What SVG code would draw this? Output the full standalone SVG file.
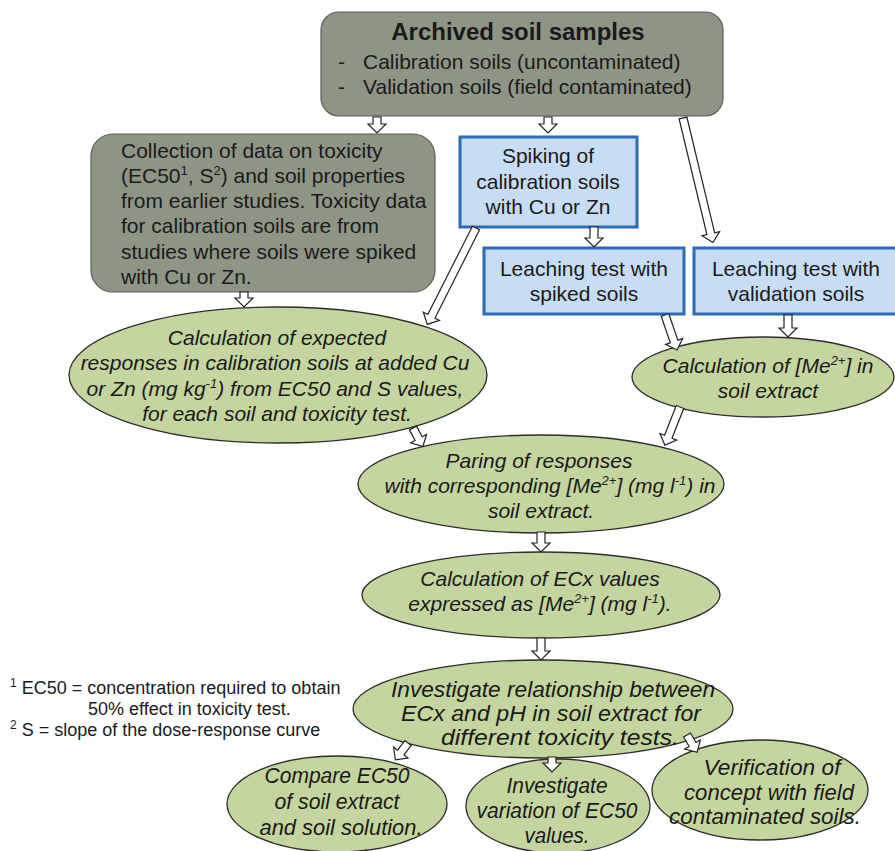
<svg xmlns="http://www.w3.org/2000/svg" width="895" height="851" viewBox="0 0 895 851">
<style>
text{font-family:"Liberation Sans",Arial,sans-serif;fill:#1a1a1a}
.b{font-size:21px}
.c{text-anchor:middle}
.i{font-style:italic}
.t{font-size:24px;font-weight:bold}
.n{font-family:"Liberation Sans Narrow","Liberation Sans",Arial,sans-serif;font-size:22px;font-style:italic}
.f{font-size:18px}
.gray{fill:#8f9585;stroke:#5a5e55;stroke-width:1.2}
.blue{fill:#c7ddf4;stroke:#2c6bb6;stroke-width:3}
.ell{fill:#c4d59f;stroke:#2d2d2d;stroke-width:1.3}
.arr{fill:#fff;stroke:#222;stroke-width:1.2;stroke-linejoin:miter}
</style>
<rect width="895" height="851" fill="#fff"/>

<g id="archived">
<rect class="gray" x="321" y="12" width="402" height="104" rx="18"/>
<text class="t c" x="518" y="40">Archived soil samples</text>
<text class="b" x="338" y="69">-</text>
<text class="b" x="363" y="69">Calibration soils (uncontaminated)</text>
<text class="b" x="338" y="94">-</text>
<text class="b" x="363" y="94">Validation soils (field contaminated)</text>
</g>

<g id="collection">
<rect class="gray" x="91" y="134" width="344" height="158" rx="22"/>
<text class="b" x="121" y="158">Collection of data on toxicity</text>
<text class="b" x="121" y="183">(EC50<tspan dy="-8" font-size="13">1</tspan><tspan dy="8">, S</tspan><tspan dy="-8" font-size="13">2</tspan><tspan dy="8">) and soil properties</tspan></text>
<text class="b" x="121" y="208">from earlier studies. Toxicity data</text>
<text class="b" x="121" y="233">for calibration soils are from</text>
<text class="b" x="121" y="259">studies where soils were spiked</text>
<text class="b" x="121" y="284">with Cu or Zn.</text>
</g>

<g id="spiking">
<rect class="blue" x="460" y="137" width="177" height="90"/>
<text class="b c" x="548" y="163">Spiking of</text>
<text class="b c" x="548" y="189">calibration soils</text>
<text class="b c" x="548" y="214">with Cu or Zn</text>
</g>

<g id="leach-spiked">
<rect class="blue" x="484" y="248" width="200" height="66"/>
<text class="b c" x="584" y="276">Leaching test with</text>
<text class="b c" x="584" y="301">spiked soils</text>
</g>

<g id="leach-valid">
<rect class="blue" x="694" y="248" width="203" height="66"/>
<text class="b c" x="796" y="276">Leaching test with</text>
<text class="b c" x="796" y="301">validation soils</text>
</g>

<g id="expected">
<ellipse class="ell" cx="278" cy="375" rx="209" ry="68"/>
<text class="b c i" x="277" y="345">Calculation of expected</text>
<text class="b c i" x="275" y="370">responses in calibration soils at added Cu</text>
<text class="b c i" x="275" y="396">or Zn (mg kg<tspan dy="-8" font-size="13">-1</tspan><tspan dy="8">) from EC50 and S values,</tspan></text>
<text class="b c i" x="277" y="421">for each soil and toxicity test.</text>
</g>

<g id="me-extract">
<ellipse class="ell" cx="763" cy="377" rx="131" ry="40"/>
<text class="b c i" x="768" y="373">Calculation of [Me<tspan dy="-8" font-size="13">2+</tspan><tspan dy="8">] in</tspan></text>
<text class="b c i" x="768" y="398">soil extract</text>
</g>

<g id="paring">
<ellipse class="ell" cx="541" cy="484" rx="183" ry="49"/>
<text class="b c i" x="539" y="468">Paring of responses</text>
<text class="b c i" x="550" y="493">with corresponding [Me<tspan dy="-8" font-size="13">2+</tspan><tspan dy="8">] (mg l</tspan><tspan dy="-8" font-size="13">-1</tspan><tspan dy="8">) in</tspan></text>
<text class="b c i" x="541" y="518">soil extract.</text>
</g>

<g id="ecx">
<ellipse class="ell" cx="541" cy="595" rx="179" ry="43"/>
<text class="b c i" x="540" y="586">Calculation of ECx values</text>
<text class="b c i" x="540" y="611">expressed as [Me<tspan dy="-8" font-size="13">2+</tspan><tspan dy="8">] (mg l</tspan><tspan dy="-8" font-size="13">-1</tspan><tspan dy="8">).</tspan></text>
</g>

<g id="relationship">
<ellipse class="ell" cx="543" cy="709" rx="190" ry="49"/>
<text class="n c" x="553" y="697" textLength="324" lengthAdjust="spacingAndGlyphs">Investigate relationship between</text>
<text class="n c" x="551" y="721" textLength="300" lengthAdjust="spacingAndGlyphs">ECx and pH in soil extract for</text>
<text class="n c" x="560" y="745" textLength="238" lengthAdjust="spacingAndGlyphs">different toxicity tests.</text>
</g>

<g id="compare">
<ellipse class="ell" cx="337" cy="804" rx="110" ry="48"/>
<text class="n c" x="337" y="783" textLength="145" lengthAdjust="spacingAndGlyphs">Compare EC50</text>
<text class="n c" x="337" y="809" textLength="125" lengthAdjust="spacingAndGlyphs">of soil extract</text>
<text class="n c" x="341" y="835" textLength="163" lengthAdjust="spacingAndGlyphs">and soil solution.</text>
</g>

<g id="variation">
<ellipse class="ell" cx="558" cy="806" rx="92" ry="47"/>
<text class="n c" x="557" y="793" textLength="101" lengthAdjust="spacingAndGlyphs">Investigate</text>
<text class="n c" x="557" y="818" textLength="161" lengthAdjust="spacingAndGlyphs">variation of EC50</text>
<text class="n c" x="557" y="843" textLength="65" lengthAdjust="spacingAndGlyphs">values.</text>
</g>

<g id="verification">
<ellipse class="ell" cx="760" cy="790" rx="108" ry="50"/>
<text class="n c" x="772" y="775" textLength="137" lengthAdjust="spacingAndGlyphs">Verification of</text>
<text class="n c" x="769" y="800" textLength="170" lengthAdjust="spacingAndGlyphs">concept with field</text>
<text class="n c" x="765" y="824" textLength="192" lengthAdjust="spacingAndGlyphs">contaminated soils.</text>
</g>

<g id="footnotes">
<text class="f" x="10" y="694"><tspan font-size="12" dy="-7">1</tspan><tspan dy="7"> EC50 = concentration required to obtain</tspan></text>
<text class="f" x="88" y="715">50% effect in toxicity test.</text>
<text class="f" x="10" y="736"><tspan font-size="12" dy="-7">2</tspan><tspan dy="7"> S = slope of the dose-response curve</tspan></text>
</g>

<g id="connectors">
<polygon class="arr" transform="translate(377,117)" points="-4,0 4,0 4,7 9,7 0,16 -9,7 -4,7"/>
<polygon class="arr" transform="translate(548,117)" points="-4,0 4,0 4,7 9,7 0,16 -9,7 -4,7"/>
<polygon class="arr" transform="translate(683,118) rotate(-13.5)" points="-4,0 4,0 4,119 9,119 0,128 -9,119 -4,119"/>
<polygon class="arr" transform="translate(594,227)" points="-4,0 4,0 4,11 9,11 0,20 -9,11 -4,11"/>
<polygon class="arr" transform="translate(476,228) rotate(26.8)" points="-4,0 4,0 4,99 9,99 0,108 -9,99 -4,99"/>
<polygon class="arr" transform="translate(244,292)" points="-4,0 4,0 4,6 9,6 0,15 -9,6 -4,6"/>
<polygon class="arr" transform="translate(788,315)" points="-4,0 4,0 4,13 9,13 0,22 -9,13 -4,13"/>
<polygon class="arr" transform="translate(665,315) rotate(-19)" points="-4,0 4,0 4,28 9,28 0,37 -9,28 -4,28"/>
<polygon class="arr" transform="translate(413,428) rotate(-28)" points="-4,0 4,0 4,12 9,12 0,21 -9,12 -4,12"/>
<polygon class="arr" transform="translate(680,407) rotate(21.5)" points="-4,0 4,0 4,32 9,32 0,41 -9,32 -4,32"/>
<polygon class="arr" transform="translate(541,532)" points="-4,0 4,0 4,11 9,11 0,20 -9,11 -4,11"/>
<polygon class="arr" transform="translate(541,638)" points="-4,0 4,0 4,13 9,13 0,22 -9,13 -4,13"/>
<polygon class="arr" transform="translate(408,743) rotate(37)" points="-4,0 4,0 4,12 9,12 0,21 -9,12 -4,12"/>
<polygon class="arr" transform="translate(552,757)" points="-4,0 4,0 4,6 9,6 0,15 -9,6 -4,6"/>
<polygon class="arr" transform="translate(687,735) rotate(-30.5)" points="-4,0 4,0 4,11 9,11 0,20 -9,11 -4,11"/>
</g>
</svg>
